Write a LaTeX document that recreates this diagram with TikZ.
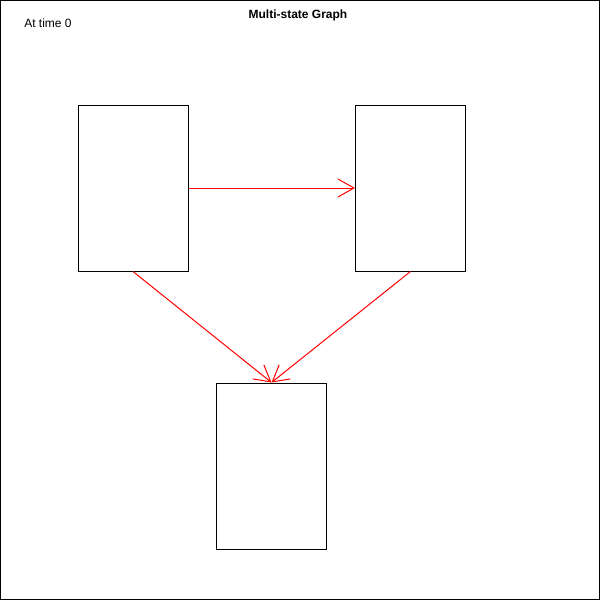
\documentclass[tikz,border=0pt]{standalone}
\usepackage{fontspec}
\setmainfont{Liberation Sans}
\usetikzlibrary{arrows.meta,positioning}
\definecolor{ink}{HTML}{000000}
\definecolor{flow}{HTML}{FF0000}

\begin{document}
\begin{tikzpicture}[x=0.75pt,y=-0.75pt,line width=0.75pt,font=\fontsize{9}{11}\selectfont,
  state/.style={draw=ink,minimum width=82.5pt,minimum height=124.5pt,inner sep=0pt},
  link/.style={draw=flow,-{Straight Barb[length=12pt,width=13.5pt,line width=0.75pt]}}]
% frame
\draw[ink] (0.5,0.5) rectangle (599.5,599.5);
\useasboundingbox (0,0) rectangle (600,600);
% texts
\node[font=\fontsize{9}{11}\selectfont\bfseries] (title) at (298,15) {Multi-state Graph};
\node (time) at (48,23) {At time 0};
% states
\node[state] (s1) at (133,188) {};
\node[state] (s2) at (410.5,188) {};
\node[state] (s3) at (271.5,466) {};
% transitions
\draw[link] (s1.east) -- (s2.west);
\draw[link] (s1.south) -- (s3.north);
\draw[link] (s2.south) -- (s3.north);
\end{tikzpicture}
\end{document}
